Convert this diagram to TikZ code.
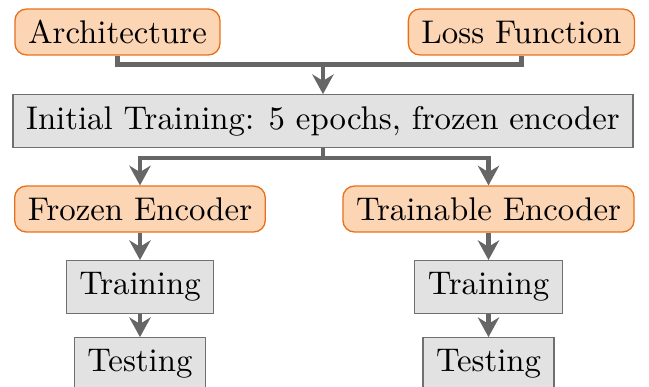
\documentclass[tikz,border=0pt]{standalone}
\usetikzlibrary{arrows.meta,calc}
\definecolor{stagefill}{HTML}{FCD5B5}
\definecolor{stageline}{HTML}{E8701A}
\definecolor{phasefill}{HTML}{E2E2E2}
\definecolor{phaseline}{HTML}{707070}
\definecolor{linkgray}{HTML}{666666}
\tikzset{choice/.style={rounded corners=3.5pt, draw=stageline, fill=stagefill, minimum height=14pt, inner xsep=4pt},
         phase/.style={draw=phaseline, fill=phasefill, minimum height=16pt, inner xsep=4pt},
         link/.style={draw=linkgray, line width=1.4pt},
         feed/.style={link, -{Stealth[length=6pt,width=6.5pt]}}}

\begin{document}
\begin{tikzpicture}
\useasboundingbox (0,0) rectangle (6.955,4.147);
\node (arch) at (1.259,3.804) [choice] {Architecture};
\node (loss) at (5.588,3.804) [choice] {Loss Function};
\node (init) at (3.461,2.850) [phase] {Initial Training: 5 epochs, frozen encoder};
\node (frozen) at (1.500,1.907) [choice] {Frozen Encoder};
\node (trainable) at (5.235,1.907) [choice] {Trainable Encoder};
\node (trainL) at (1.500,1.072) [phase] {Training};
\node (trainR) at (5.235,1.072) [phase] {Training};
\node (testL) at (1.500,0.246) [phase] {Testing};
\node (testR) at (5.235,0.246) [phase] {Testing};
% merge the two choices
\coordinate (m1) at ($(init.north)+(0,0.32)$);
\draw[link] (arch.south) |- (m1) -| (loss.south);
\draw[feed] (m1) -- (init.north);
% split into the two runs
\coordinate (m2) at ($(init.south)+(0,-0.107)$);
\draw[link] (init.south) -- (m2);
\draw[feed] (m2) -| (frozen.north);
\draw[feed] (m2) -| (trainable.north);
\draw[feed] (frozen) -- (trainL);
\draw[feed] (trainL) -- (testL);
\draw[feed] (trainable) -- (trainR);
\draw[feed] (trainR) -- (testR);
\end{tikzpicture}
\end{document}
